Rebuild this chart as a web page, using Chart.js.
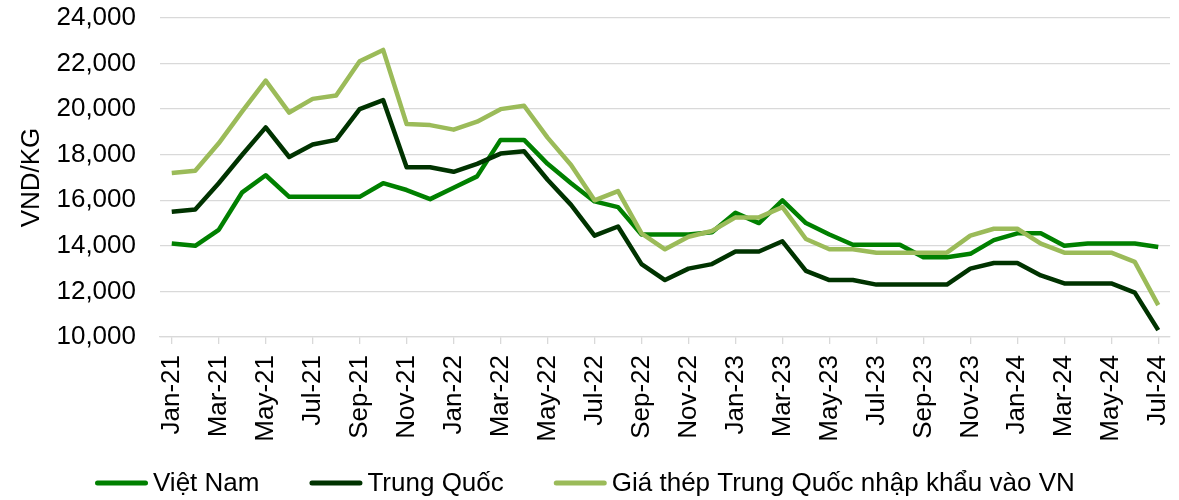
<!DOCTYPE html>
<html>
<head>
<meta charset="utf-8">
<script src="https://cdn.jsdelivr.net/npm/chart.js@4/dist/chart.umd.min.js"></script>
<style>
  html, body { margin: 0; padding: 0; background: #fff; }
  #wrap { width: 1179px; height: 500px; position: relative; }
</style>
</head>
<body>
<div id="wrap"><canvas id="chart"></canvas></div>
<script>
const months = [
    'Jan-21', 'Feb-21', 'Mar-21', 'Apr-21', 'May-21', 'Jun-21', 'Jul-21', 'Aug-21', 'Sep-21', 'Oct-21', 'Nov-21', 'Dec-21',
    'Jan-22', 'Feb-22', 'Mar-22', 'Apr-22', 'May-22', 'Jun-22', 'Jul-22', 'Aug-22', 'Sep-22', 'Oct-22', 'Nov-22', 'Dec-22',
    'Jan-23', 'Feb-23', 'Mar-23', 'Apr-23', 'May-23', 'Jun-23', 'Jul-23', 'Aug-23', 'Sep-23', 'Oct-23', 'Nov-23', 'Dec-23',
    'Jan-24', 'Feb-24', 'Mar-24', 'Apr-24', 'May-24', 'Jun-24', 'Jul-24'
];

// VND/KG
const vietNam = [
    14100, 14000, 14700, 16350, 17100, 16150, 16150, 16150, 16150, 16750, 16450, 16050,
    16550, 17050, 18650, 18650, 17600, 16750, 15950, 15700, 14500, 14500, 14500, 14600,
    15450, 15000, 16000, 15000, 14500, 14050, 14050, 14050, 13500, 13500, 13650, 14250,
    14550, 14550, 14000, 14100, 14100, 14100, 13950
];
const trungQuoc = [
    15500, 15600, 16750, 18000, 19200, 17900, 18450, 18650, 20000, 20400, 17450, 17450,
    17250, 17600, 18050, 18150, 16900, 15800, 14450, 14850, 13200, 12500, 13000, 13200,
    13750, 13750, 14200, 12900, 12500, 12500, 12300, 12300, 12300, 12300, 13000, 13250,
    13250, 12700, 12350, 12350, 12350, 11950, 10300
];
const nhapKhau = [
    17200, 17300, 18500, 19900, 21250, 19850, 20450, 20600, 22100, 22600, 19350, 19300,
    19100, 19450, 20000, 20150, 18750, 17550, 16000, 16400, 14550, 13850, 14400, 14650,
    15250, 15250, 15700, 14300, 13850, 13850, 13700, 13700, 13700, 13700, 14450, 14750,
    14750, 14100, 13700, 13700, 13700, 13300, 11400
];

const seriesNames = ['Việt Nam', 'Trung Quốc', 'Giá thép Trung Quốc nhập khẩu vào VN'];
const seriesColors = ['#008000', '#003300', '#9bbb59'];
const yTicks = [10000, 12000, 14000, 16000, 18000, 20000, 22000, 24000];

const FONT = "'Liberation Sans', Arial, sans-serif";
const GRID = '#d9d9d9';

// legend drawn as short line + label, left-aligned like the Excel original
const lineLegend = {
    id: 'lineLegend',
    afterDraw(chart) {
        const ctx = chart.ctx;
        const y = chart.height - 17;
        let x = chart.chartArea.left - 65;
        ctx.save();
        ctx.font = `26px ${FONT}`;
        ctx.textBaseline = 'middle';
        ctx.fillStyle = '#000';
        chart.data.datasets.forEach(ds => {
            ctx.strokeStyle = ds.borderColor;
            ctx.lineWidth = 5;
            ctx.lineCap = 'round';
            ctx.beginPath();
            ctx.moveTo(x + 2.5, y);
            ctx.lineTo(x + 50.5, y);
            ctx.stroke();
            ctx.fillText(ds.label, x + 58, y + 1);
            x += 58 + ctx.measureText(ds.label).width + 50;
        });
        ctx.restore();
    }
};

const series = [vietNam, trungQuoc, nhapKhau];

new Chart(document.getElementById('chart'), {
    type: 'line',
    data: {
        labels: months,
        datasets: series.map((data, i) => ({
            label: seriesNames[i],
            data: data,
            borderColor: seriesColors[i],
            backgroundColor: seriesColors[i],
            borderWidth: 4.5,
            pointRadius: 0,
            tension: 0,
            borderJoinStyle: 'round',
            order: 3 - i
        }))
    },
    options: {
        responsive: true,
        maintainAspectRatio: false,
        animation: false,
        layout: { padding: { top: 18, right: 9, bottom: 53, left: 0 } },
        plugins: {
            legend: { display: false },
            tooltip: { enabled: false }
        },
        scales: {
            x: {
                offset: true,
                grid: {
                    drawOnChartArea: false,
                    drawTicks: true,
                    tickLength: 7,
                    lineWidth: 1.3,
                    color: c => (c.index % 2 === 0 ? GRID : 'rgba(0,0,0,0)')
                },
                border: { display: true, color: GRID, width: 1.3 },
                ticks: {
                    autoSkip: false,
                    maxRotation: 90,
                    minRotation: 90,
                    padding: 11,
                    color: '#000',
                    font: { family: FONT, size: 26 },
                    callback: function (v, i) { return i % 2 === 0 ? this.getLabelForValue(v) : ''; }
                },
                afterFit: s => { s.height = 110; s.paddingLeft = 0; s.paddingRight = 0; }
            },
            y: {
                min: yTicks[0],
                max: yTicks[yTicks.length - 1],
                afterBuildTicks: s => { s.ticks = yTicks.map(v => ({ value: v })); },
                grid: { color: GRID, lineWidth: 1.3, drawTicks: false },
                border: { display: false },
                ticks: {
                    padding: 24,
                    color: '#000',
                    font: { family: FONT, size: 26 },
                    callback: v => v.toLocaleString('en-US')
                },
                title: {
                    display: true,
                    text: 'VND/KG',
                    color: '#000',
                    font: { family: FONT, size: 26 },
                    padding: { top: 16, bottom: 0 }
                },
                afterFit: s => { s.width = 160; s.paddingTop = 0; s.paddingBottom = 0; }
            }
        }
    },
    plugins: [lineLegend]
});
</script>
</body>
</html>
